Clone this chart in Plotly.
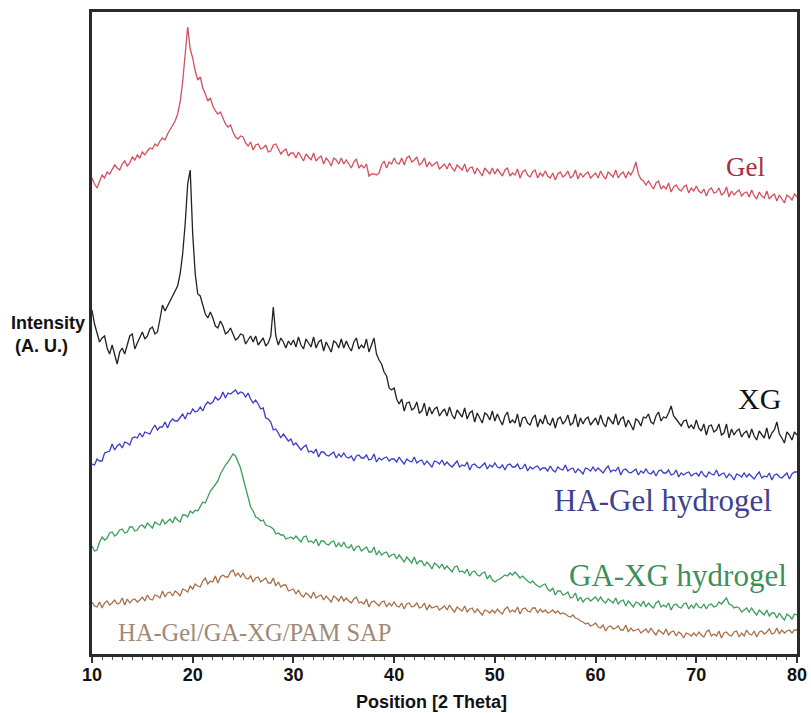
import numpy as np
import plotly.graph_objects as go

# 2-theta grid (degrees), 0.25 degree step; each row below covers 5 degrees
two_theta = np.arange(10.0, 80.0 + 0.125, 0.25)

# Intensities (a.u., stacked offsets)
gel = [
    476, 470, 466, 472, 479, 476, 482, 480, 484, 489, 486, 484, 490, 493, 488, 491, 497, 494, 499, 496,
    502, 499, 503, 506, 505, 510, 508, 513, 516, 514, 520, 524, 528, 533, 540, 552, 572, 598, 627, 605,
    596, 583, 574, 577, 566, 560, 553, 556, 548, 543, 540, 542, 535, 530, 527, 529, 522, 517, 515, 518,
    517, 511, 508, 512, 504, 509, 510, 505, 506, 509, 502, 503, 509, 510, 505, 500, 503, 505, 498, 501,
    501, 496, 502, 497, 493, 500, 497, 494, 501, 493, 496, 498, 490, 496, 493, 488, 496, 494, 490, 496,
    490, 494, 490, 486, 492, 495, 486, 489, 486, 490, 478, 480, 480, 479, 481, 489, 493, 486, 492, 490,
    496, 491, 490, 496, 489, 496, 498, 492, 494, 497, 489, 491, 496, 487, 492, 488, 490, 492, 485, 488,
    490, 485, 491, 486, 483, 489, 486, 484, 490, 482, 486, 487, 480, 486, 482, 478, 486, 483, 480, 486,
    480, 485, 481, 478, 484, 486, 478, 481, 479, 485, 476, 482, 484, 479, 477, 482, 484, 476, 481, 478,
    483, 478, 476, 481, 474, 480, 482, 477, 479, 483, 476, 478, 484, 475, 481, 477, 480, 482, 476, 479,
    481, 476, 483, 478, 475, 482, 479, 477, 484, 476, 480, 482, 476, 482, 479, 484, 492, 480, 475, 473,
    469, 473, 469, 465, 471, 473, 465, 468, 465, 471, 462, 467, 469, 465, 463, 467, 469, 461, 466, 463,
    468, 463, 461, 465, 458, 464, 466, 461, 462, 466, 459, 461, 467, 457, 463, 459, 462, 464, 458, 461,
    462, 457, 464, 458, 455, 462, 458, 456, 463, 455, 458, 460, 453, 459, 455, 451, 459, 457, 454, 460,
    457,
]

xg = [
    344, 330, 321, 312, 316, 318, 306, 300, 309, 298, 290, 302, 306, 300, 310, 318, 320, 305, 311, 316,
    322, 315, 318, 325, 327, 320, 322, 335, 349, 343, 348, 352, 357, 362, 368, 380, 400, 430, 470, 484,
    420, 380, 360, 358, 350, 340, 336, 342, 336, 328, 326, 333, 328, 320, 322, 326, 320, 314, 316, 320,
    319, 310, 314, 318, 312, 318, 309, 313, 316, 308, 311, 318, 347, 318, 309, 316, 312, 306, 313, 309,
    314, 307, 317, 309, 305, 315, 311, 307, 317, 306, 312, 314, 303, 312, 307, 302, 313, 311, 306, 315,
    306, 313, 307, 303, 312, 316, 305, 309, 306, 315, 302, 310, 316, 300, 294, 290, 282, 278, 266, 264,
    266, 255, 250, 255, 243, 251, 252, 244, 246, 252, 241, 243, 251, 238, 247, 240, 245, 247, 238, 242,
    245, 238, 247, 239, 235, 244, 240, 237, 246, 235, 241, 243, 232, 241, 236, 231, 241, 239, 234, 243,
    233, 240, 234, 229, 238, 242, 231, 234, 231, 240, 227, 236, 237, 231, 229, 236, 239, 227, 235, 230,
    239, 231, 229, 236, 226, 235, 237, 230, 233, 239, 229, 231, 240, 227, 236, 230, 235, 237, 229, 233,
    236, 229, 239, 231, 227, 237, 233, 230, 240, 229, 235, 237, 227, 234, 229, 224, 235, 233, 228, 237,
    236, 240, 232, 230, 238, 242, 233, 237, 236, 241, 248, 238, 235, 232, 228, 233, 234, 226, 229, 225,
    234, 226, 223, 230, 219, 228, 229, 222, 224, 230, 219, 221, 230, 216, 225, 219, 223, 225, 217, 221,
    223, 216, 225, 218, 214, 223, 219, 216, 226, 215, 221, 224, 232, 220, 216, 211, 222, 219, 214, 222,
    219,
]

ha_gel = [
    190, 189, 195, 193, 193, 201, 202, 203, 210, 204, 208, 210, 206, 212, 211, 209, 216, 217, 216, 221,
    217, 222, 221, 220, 225, 229, 224, 227, 227, 232, 226, 232, 235, 233, 233, 237, 240, 235, 241, 240,
    245, 242, 243, 247, 243, 249, 252, 250, 252, 257, 254, 256, 262, 256, 261, 260, 262, 264, 260, 262,
    261, 257, 261, 255, 251, 254, 250, 245, 246, 236, 235, 232, 224, 225, 221, 216, 220, 217, 213, 215,
    209, 211, 207, 204, 207, 209, 202, 203, 201, 205, 197, 202, 202, 199, 198, 200, 202, 196, 200, 197,
    201, 197, 196, 198, 193, 198, 199, 196, 196, 199, 194, 195, 200, 192, 196, 194, 196, 197, 193, 195,
    195, 192, 197, 193, 190, 195, 193, 192, 197, 191, 193, 194, 189, 193, 190, 187, 193, 192, 190, 194,
    189, 192, 189, 187, 190, 193, 187, 189, 188, 192, 184, 189, 190, 187, 186, 189, 191, 185, 189, 187,
    191, 187, 186, 189, 184, 189, 190, 187, 187, 190, 185, 186, 190, 183, 187, 185, 187, 188, 184, 186,
    186, 183, 188, 184, 182, 187, 185, 184, 189, 183, 185, 186, 181, 185, 183, 180, 186, 185, 183, 187,
    183, 186, 183, 181, 185, 188, 182, 184, 183, 187, 179, 184, 185, 182, 181, 183, 185, 179, 183, 181,
    185, 181, 180, 183, 178, 183, 184, 181, 181, 184, 179, 180, 184, 177, 181, 179, 181, 182, 178, 180,
    181, 178, 183, 179, 177, 182, 180, 179, 184, 178, 180, 181, 176, 180, 178, 174, 180, 179, 177, 181,
    177, 180, 177, 175, 179, 182, 176, 178, 177, 181, 174, 179, 180, 177, 176, 179, 181, 175, 180, 182,
    182,
]

ga_xg = [
    108, 103, 104, 112, 117, 114, 116, 121, 122, 118, 120, 124, 125, 121, 122, 127, 127, 123, 124, 128,
    129, 126, 131, 128, 126, 132, 130, 129, 135, 130, 133, 135, 131, 137, 134, 132, 139, 139, 137, 143,
    141, 144, 143, 148, 152, 151, 158, 163, 166, 170, 173, 180, 185, 189, 192, 196, 200, 198, 192, 186,
    176, 166, 154, 147, 143, 137, 136, 133, 134, 129, 128, 127, 125, 120, 121, 119, 119, 115, 116, 117,
    115, 118, 115, 112, 117, 118, 112, 113, 111, 115, 108, 113, 113, 110, 109, 112, 113, 107, 111, 107,
    112, 107, 106, 109, 103, 107, 108, 103, 105, 107, 102, 102, 107, 99, 103, 99, 101, 102, 97, 99,
    100, 95, 99, 95, 92, 97, 94, 91, 97, 90, 93, 93, 88, 92, 89, 85, 91, 89, 86, 90,
    85, 88, 85, 82, 87, 88, 82, 83, 81, 85, 78, 82, 83, 79, 78, 81, 82, 75, 79, 74,
    72, 74, 75, 77, 79, 78, 81, 79, 82, 79, 76, 78, 75, 73, 71, 73, 70, 68, 67, 69,
    70, 65, 63, 66, 59, 63, 63, 59, 60, 62, 56, 57, 61, 53, 57, 52, 55, 56, 53, 55,
    57, 53, 57, 53, 51, 55, 53, 51, 56, 50, 53, 54, 48, 53, 50, 47, 52, 51, 48, 53,
    47, 51, 48, 46, 51, 53, 47, 49, 47, 51, 44, 49, 50, 47, 46, 50, 51, 45, 49, 46,
    51, 47, 46, 50, 45, 49, 50, 47, 48, 52, 50, 53, 56, 50, 49, 46, 47, 46, 42, 44,
    46, 42, 46, 42, 39, 44, 41, 39, 44, 38, 41, 41, 36, 41, 37, 34, 40, 38, 35, 40,
    39,
]

sap = [
    52, 48, 47, 52, 46, 51, 53, 49, 51, 54, 50, 51, 56, 49, 55, 51, 54, 55, 52, 54,
    57, 53, 59, 55, 54, 59, 58, 56, 63, 57, 61, 62, 58, 63, 61, 58, 65, 64, 62, 68,
    65, 70, 68, 67, 73, 76, 70, 73, 72, 78, 71, 77, 79, 77, 77, 82, 84, 78, 81, 77,
    81, 76, 75, 78, 72, 76, 77, 72, 74, 76, 71, 71, 76, 68, 72, 67, 69, 69, 63, 64,
    65, 60, 64, 59, 57, 61, 59, 56, 62, 56, 58, 59, 54, 58, 55, 52, 58, 56, 53, 58,
    53, 56, 53, 51, 55, 57, 51, 52, 50, 55, 47, 52, 53, 50, 48, 52, 53, 47, 51, 48,
    52, 48, 47, 51, 45, 50, 51, 47, 48, 51, 46, 47, 51, 44, 49, 46, 47, 48, 44, 46,
    48, 44, 49, 45, 42, 47, 45, 43, 48, 42, 45, 46, 41, 45, 42, 39, 44, 43, 41, 44,
    41, 45, 42, 40, 45, 47, 42, 44, 42, 47, 40, 45, 46, 43, 42, 46, 46, 41, 45, 42,
    44, 41, 42, 44, 41, 43, 40, 41, 40, 38, 37, 39, 36, 35, 33, 32, 30, 31, 28, 29,
    31, 27, 26, 29, 23, 27, 28, 25, 26, 28, 24, 24, 29, 22, 26, 23, 24, 25, 21, 23,
    25, 21, 26, 22, 19, 24, 22, 20, 25, 19, 22, 23, 18, 22, 20, 16, 21, 20, 18, 21,
    18, 22, 19, 17, 22, 24, 18, 20, 18, 23, 16, 21, 22, 19, 18, 22, 23, 17, 21, 18,
    24, 20, 19, 23, 17, 22, 23, 20, 22, 25, 20, 21, 26, 20, 24, 21, 23, 24, 21, 24,
    24,
]

series = [
    ("Gel", gel, "#d4505f"),
    ("XG", xg, "#222222"),
    ("HA-Gel hydrogel", ha_gel, "#3c3cc8"),
    ("GA-XG hydrogel", ga_xg, "#3c9e5a"),
    ("HA-Gel/GA-XG/PAM SAP", sap, "#a87048"),
]

# Curve labels: text, x (2 theta), y (a.u.), colour, size
labels = [
    ("Gel", 74.9, 487, "#a83040", 27),
    ("XG", 76.3, 256, "#111111", 30),
    ("HA-Gel hydrogel", 66.7, 154, "#40408e", 31),
    ("GA-XG hydrogel", 68.2, 79, "#3b8f5a", 31),
    ("HA-Gel/GA-XG/PAM SAP", 26.1, 22, "#a08878", 24.5),
]

x_ticks = [10, 20, 30, 40, 50, 60, 70, 80]

fig = go.Figure()
for name, vals, color in series:
    assert len(vals) == len(two_theta)
    fig.add_trace(go.Scatter(
        x=two_theta, y=vals, mode="lines", name=name,
        line=dict(color=color, width=1.3),
        showlegend=False, hoverinfo="skip",
    ))

for text, lx, ly, color, size in labels:
    fig.add_annotation(
        x=lx, y=ly, xref="x", yref="y", text=text, showarrow=False,
        xanchor="center", yanchor="middle",
        font=dict(family="Liberation Serif, Times New Roman, serif",
                  size=size, color=color),
    )

axis_font = "Liberation Sans, Arial, sans-serif"
fig.add_annotation(
    x=0.481, y=-0.075, xref="paper", yref="paper",
    text="<b>Position [2 Theta]</b>", showarrow=False,
    xanchor="center", yanchor="middle",
    font=dict(family=axis_font, size=18, color="#111111"),
)
fig.add_annotation(
    x=-0.0631, y=0.5156, xref="paper", yref="paper",
    text="<b>Intensity</b>", showarrow=False,
    xanchor="center", yanchor="middle",
    font=dict(family=axis_font, size=18, color="#111111"),
)
fig.add_annotation(
    x=-0.0716, y=0.4798, xref="paper", yref="paper",
    text="<b>(A. U.)</b>", showarrow=False,
    xanchor="center", yanchor="middle",
    font=dict(family=axis_font, size=18, color="#111111"),
)

fig.update_layout(
    width=811, height=713, autosize=False,
    margin=dict(l=92, r=14, t=12, b=59, autoexpand=False),
    paper_bgcolor="white", plot_bgcolor="white",
    xaxis=dict(
        range=[10, 80], tickvals=x_ticks,
        ticktext=[f"<b>{t}</b>" for t in x_ticks],
        ticks="outside", ticklen=6, tickwidth=1.5, tickcolor="#333333",
        minor=dict(dtick=1, ticks="outside", ticklen=3, tickcolor="#555555", tickwidth=1),
        showline=True, linecolor="#2a2a2a", linewidth=2.5, mirror=True,
        showgrid=False, zeroline=False, automargin=False,
        tickfont=dict(family=axis_font, size=18, color="#111111"),
        ticklabelstandoff=-3,
    ),
    yaxis=dict(
        range=[0, 642], showticklabels=False, ticks="",
        showline=True, linecolor="#2a2a2a", linewidth=2.5, mirror=True,
        showgrid=False, zeroline=False, automargin=False,
    ),
)

fig.write_html("out.html")
